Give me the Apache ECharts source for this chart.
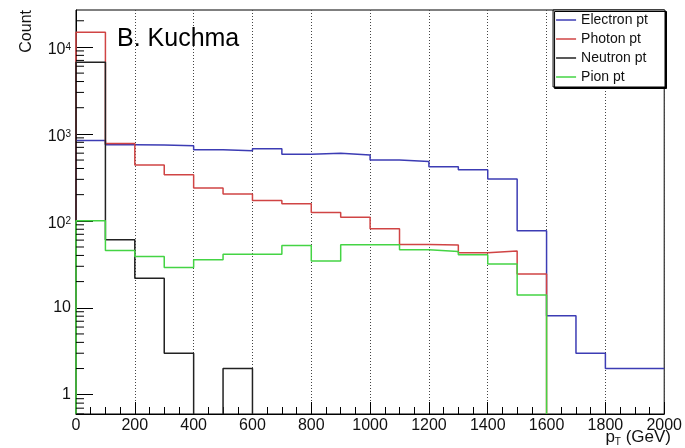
<!DOCTYPE html>
<html>
<head>
<meta charset="utf-8">
<script src="https://cdn.jsdelivr.net/npm/echarts@6/dist/echarts.min.js"></script>
<style>
	html, body { margin: 0; padding: 0; background: #fff; }
	#chart { width: 685px; height: 448px; }
</style>
</head>
<body>
<div id="chart"></div>
<script>
	// bin edges, 100 GeV wide
	var binEdges = [0, 100, 200, 300, 400, 500, 600, 700, 800, 900, 1000,
		1100, 1200, 1300, 1400, 1500, 1600, 1700, 1800, 1900, 2000];
	var seriesNames = ['Electron pt', 'Photon pt', 'Neutron pt', 'Pion pt'];
	var electronPt = [840, 750, 745, 728, 655, 638, 673, 585, 600, 570, 500, 481, 418, 388, 302, 77, 8.1, 3, 2, 2];
	var photonPt = [14750, 775, 440, 338, 238, 204, 171, 157, 125, 110, 81, 53.4, 52.6, 43, 45, 24.4, 0, 0, 0, 0];
	var neutronPt = [6670, 60.5, 21.9, 3, 0, 2, 0, 0, 0, 0, 0, 0, 0, 0, 0, 0, 0, 0, 0, 0];
	var pionPt = [100, 45.6, 39, 29, 35.6, 41.4, 41.4, 52, 34.4, 53, 53, 46.4, 44.4, 40.7, 31.8, 14, 0, 0, 0, 0];
	var xTicks = [0, 200, 400, 600, 800, 1000, 1200, 1400, 1600, 1800, 2000];
	var yMin = 0.6, yMax = 26600;

	var colors = ['#3c3cb4', '#d04444', '#222222', '#44d444'];

	// histogram outline as a step polyline; empty bins drop to the axis
	function stepPoints(vals) {
		var pts = [];
		var prev = 0;
		for (var i = 0; i < vals.length; i++) {
			var lo = binEdges[i], hi = binEdges[i + 1], v = vals[i];
			if (v > 0) {
				if (prev === 0) pts.push([lo, yMin]);
				pts.push([lo, v], [hi, v]);
			} else if (prev > 0) {
				pts.push([lo, yMin], [lo, '-']);
			}
			prev = v;
		}
		return pts;
	}

	// minor ticks 2..9 on each decade of the log axis
	var yMinor = [];
	for (var e = -1; e <= 4; e++) {
		for (var m = 2; m <= 9; m++) {
			var mv = m * Math.pow(10, e);
			if (mv > yMin && mv < yMax) yMinor.push([0, mv]);
		}
	}

	function yLabel(v) {
		var p = Math.round(Math.log10(v));
		if (p === 0) return '1';
		if (p === 1) return '10';
		return '{b|10}{sup|' + p + '}';
	}

	var dataList = [electronPt, photonPt, neutronPt, pionPt];
	var series = dataList.map(function (d, i) {
		return {
			name: seriesNames[i],
			type: 'line',
			data: stepPoints(d),
			symbol: 'none',
			connectNulls: false,
			color: colors[i],
			lineStyle: { width: 1.5, color: colors[i] },
			z: 3 + i
		};
	});
	series.push({
		type: 'custom',
		silent: true,
		data: yMinor,
		encode: { x: 0, y: 1 },
		renderItem: function (params, api) {
			var p = api.coord([0, api.value(1)]);
			return {
				type: 'line',
				shape: { x1: p[0], y1: p[1], x2: p[0] + 8, y2: p[1] },
				style: { stroke: '#000', lineWidth: 1 }
			};
		},
		z: 10
	});

	var chart = echarts.init(document.getElementById('chart'));
	var options = {
		animation: false,
		grid: {
			left: 76,
			right: 19,
			top: 10,
			bottom: 34,
			show: true,
			borderColor: '#000',
			borderWidth: 1,
			backgroundColor: 'transparent'
		},
		legend: {
			data: seriesNames,
			orient: 'vertical',
			right: 20,
			top: 10,
			icon: 'rect',
			itemWidth: 20,
			itemHeight: 1.5,
			itemGap: 5,
			padding: [3, 17, 3, 3],
			backgroundColor: '#fff',
			borderColor: '#000',
			borderWidth: 1,
			shadowColor: '#000',
			shadowBlur: 0,
			shadowOffsetX: 1.5,
			shadowOffsetY: 1.5,
			textStyle: {
				fontFamily: 'Liberation Sans',
				fontSize: 14,
				lineHeight: 14,
				color: '#111'
			}
		},
		xAxis: {
			type: 'value',
			min: 0,
			max: 2000,
			interval: 200,
			axisLine: { lineStyle: { color: '#000', width: 1 } },
			axisTick: { inside: true, length: 12, lineStyle: { color: '#000' } },
			minorTick: { show: true, splitNumber: 4, length: 7, lineStyle: { color: '#000' } },
			splitLine: { show: true, lineStyle: { color: '#444', type: [1, 2], width: 1 } },
			axisLabel: {
				fontFamily: 'Liberation Sans',
				fontSize: 16,
				color: '#111',
				margin: 4,
				formatter: function (v) { return xTicks.indexOf(v) >= 0 ? String(v) : ''; }
			}
		},
		yAxis: {
			type: 'log',
			logBase: 10,
			min: yMin,
			max: yMax,
			axisLine: { show: true, lineStyle: { color: '#000', width: 1 } },
			axisTick: { show: true, inside: true, length: 17, lineStyle: { color: '#000' } },
			splitLine: { show: false },
			axisLabel: {
				showMinLabel: false,
				showMaxLabel: false,
				margin: 5,
				fontFamily: 'Liberation Sans',
				fontSize: 16,
				color: '#111',
				formatter: yLabel,
				rich: {
					b: { fontSize: 16, lineHeight: 16, verticalAlign: 'bottom', fontFamily: 'Liberation Sans', color: '#111' },
					sup: { fontSize: 10, lineHeight: 22, verticalAlign: 'middle', fontFamily: 'Liberation Sans', color: '#111' }
				}
			}
		},
		graphic: [
			{
				type: 'text',
				x: 117,
				y: 39,
				style: {
					text: 'B. Kuchma',
					font: '25px "Liberation Sans"',
					fill: '#000',
					verticalAlign: 'middle'
				},
				z: 20
			},
			{
				type: 'text',
				x: 27,
				y: 10,
				rotation: Math.PI / 2,
				style: {
					text: 'Count',
					font: '16px "Liberation Sans"',
					fill: '#111',
					align: 'right',
					verticalAlign: 'middle'
				}
			},
			{
				type: 'text',
				x: 671,
				y: 437,
				style: {
					text: 'p{sub|T} (GeV)',
					font: '17px "Liberation Sans"',
					fill: '#111',
					align: 'right',
					verticalAlign: 'middle',
					lineHeight: 20,
					rich: {
						sub: { fontSize: 10, lineHeight: 10, verticalAlign: 'bottom', fontFamily: 'Liberation Sans', fill: '#111' }
					}
				}
			}
		],
		series: series
	};
	chart.setOption(options);
</script>
</body>
</html>
